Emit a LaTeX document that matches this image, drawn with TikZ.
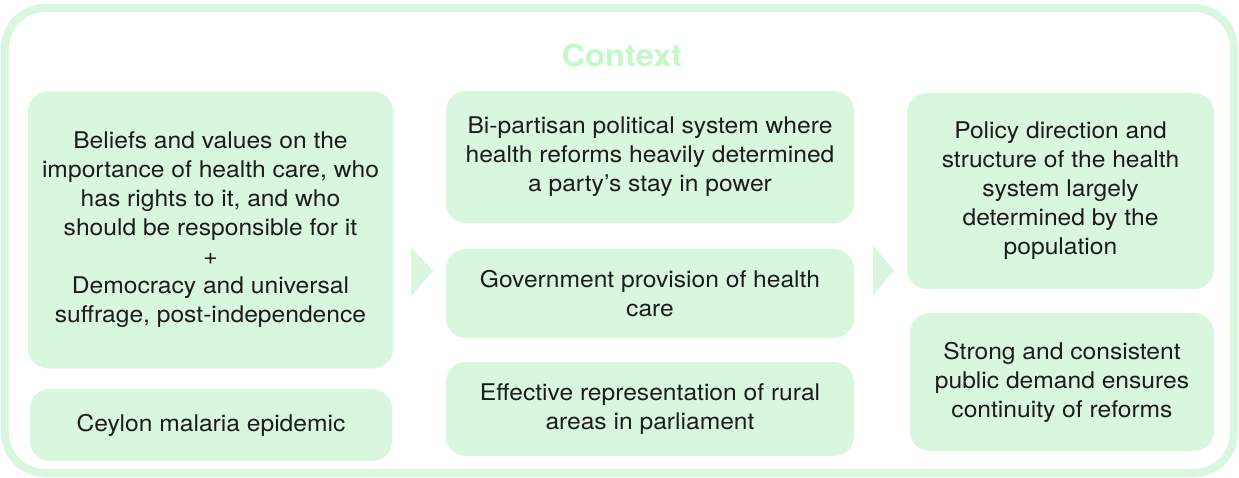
\documentclass[tikz,border=0pt]{standalone}
\usepackage{fontspec}
\setmainfont[FakeStretch=1.07]{TeX Gyre Heros}
\definecolor{boxgreen}{HTML}{D9F6DE}
\definecolor{titlegreen}{HTML}{C4F8C9}
\definecolor{textgray}{HTML}{1C1C1C}
\begin{document}
\begin{tikzpicture}[x=1pt, y=-1pt,
	ctxbox/.style={fill=boxgreen, rounded corners=20pt, text=textgray, align=center, inner sep=0pt,
		font=\fontsize{23}{29}\selectfont},
	flowtip/.style={fill=boxgreen}]
	\useasboundingbox (0,0) rectangle (1239,478);
	\draw[boxgreen, line width=8pt, rounded corners=40pt] (5,8) rectangle (1234,473);
	\node[text=titlegreen, font=\bfseries\fontsize{30.5}{34}\selectfont] (title) at (622,55) {Context};

	\node[ctxbox, minimum width=365pt, minimum height=277pt] (beliefs)   at (210.5,230) {Beliefs and values on the\\importance of health care, who\\has rights to it, and who\\should be responsible for it\\+\\Democracy and universal\\suffrage, post-independence};
	\node[ctxbox, minimum width=362pt, minimum height=72pt]  (malaria)   at (211,425)     {Ceylon malaria epidemic};
	\node[ctxbox, minimum width=408pt, minimum height=132pt] (bipartisan) at (650,157)    {Bi-partisan political system where\\health reforms heavily determined\\a party’s stay in power};
	\node[ctxbox, minimum width=408pt, minimum height=89pt]  (provision) at (650,293.5)   {Government provision of health\\care};
	\node[ctxbox, minimum width=408pt, minimum height=94pt]  (rural)     at (650,409)     {Effective representation of rural\\areas in parliament};
	\node[ctxbox, minimum width=307pt, minimum height=196pt] (policy)    at (1060.5,191)  {Policy direction and\\structure of the health\\system largely\\determined by the\\population};
	\node[ctxbox, minimum width=304pt, minimum height=138pt] (demand)    at (1062,382)    {Strong and consistent\\public demand ensures\\continuity of reforms};

	\fill[flowtip] (411,247) -- (433,271) -- (411,296) -- cycle;
	\fill[flowtip] (873,246) -- (894,270.5) -- (873,295) -- cycle;
\end{tikzpicture}
\end{document}
